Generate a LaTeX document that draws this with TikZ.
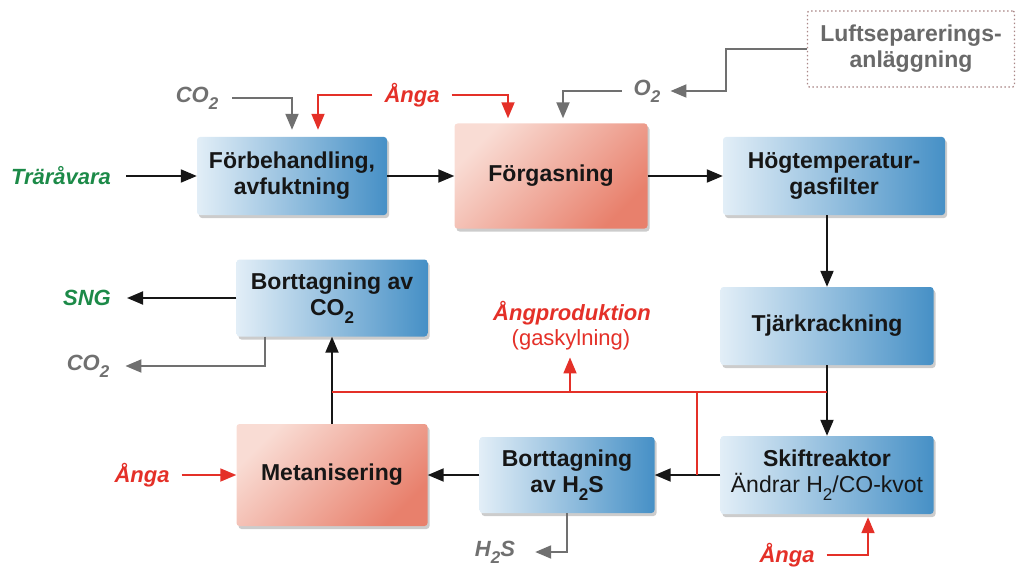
\documentclass[tikz,border=0pt]{standalone}
\usepackage{fontspec}
\setmainfont{Liberation Sans}
\usetikzlibrary{arrows.meta,shadows,calc}

\definecolor{cgreen}{RGB}{28,138,72}
\definecolor{cred}{RGB}{228,48,40}
\definecolor{cgray}{RGB}{112,112,112}
\definecolor{cblack}{RGB}{22,22,22}
\definecolor{blueL}{RGB}{226,238,247}
\definecolor{blueM}{RGB}{130,182,220}
\definecolor{blueR}{RGB}{70,144,198}
\definecolor{redL}{RGB}{249,220,212}
\definecolor{redR}{RGB}{232,128,108}
\definecolor{luftb}{RGB}{170,135,135}
\definecolor{lufttext}{RGB}{105,105,105}

\newcommand\mysub[1]{\raisebox{-0.32em}{\fontsize{17}{17}\selectfont #1}}

\begin{document}
\begin{tikzpicture}[x=1pt,y=-1pt,
  box/.style={rounded corners=3pt, inner sep=0pt, align=center, text=cblack,
    font=\fontsize{23}{26}\selectfont\bfseries,
    drop shadow={opacity=0.4, shadow xshift=2pt, shadow yshift=-3pt}},
  bluebox/.style={box, left color=blueL, middle color=blueM, right color=blueR},
  redbox/.style={box, left color=redL, right color=redR, shading angle=45},
  luftbox/.style={draw=luftb, line width=1.3pt, dash pattern=on 1.5pt off 2.5pt,
    fill=white, rounded corners=2pt, inner sep=0pt, align=center, text=lufttext,
    font=\fontsize{23}{26}\selectfont\bfseries},
  lab/.style={inner sep=0pt, font=\fontsize{22}{24}\selectfont\bfseries\itshape},
  arrtip/.style={-{Triangle[length=16pt,width=13pt]}},
  arr/.style={line width=2pt, draw=cblack, arrtip},
  grayarr/.style={line width=2pt, draw=cgray, arrtip},
  redarr/.style={line width=1.8pt, draw=cred, arrtip},
  redline/.style={line width=1.8pt, draw=cred},
]
\useasboundingbox (0,0) rectangle (1016,572);

% process boxes
\node[bluebox, minimum width=190pt, minimum height=78pt] (pre) at (292,176) {Förbehandling,\\avfuktning};
\node[redbox, minimum width=193pt, minimum height=105pt] (gas) at (551,176) {Förgasning};
\node[bluebox, minimum width=222pt, minimum height=78pt] (hot) at (834,176) {Högtemperatur-\\gasfilter};
\node[bluebox, minimum width=213pt, minimum height=78pt] (tar) at (827,326) {Tjärkrackning};
\node[bluebox, minimum width=213pt, minimum height=78pt] (shift) at (827,475) {Skiftreaktor\\{\mdseries Ändrar H\mysub{2}/CO-kvot}};
\node[bluebox, minimum width=175pt, minimum height=76pt] (h2s) at (567,475) {Borttagning\\av H\mysub{2}S};
\node[redbox, minimum width=191pt, minimum height=102pt] (met) at (332,475) {Metanisering};
\node[bluebox, minimum width=191pt, minimum height=77pt] (co2) at (332,298) {Borttagning av\\CO\mysub{2}};
\node[luftbox, minimum width=207pt, minimum height=76pt] (luft) at (911,49) {Luftseparerings-\\anläggning};

% labels
\node[lab, text=cgreen] (trar) at (61,176) {Träråvara};
\node[lab, text=cgray] (co2in) at (197,98) {CO\mysub{2}};
\node[lab, text=cred] (anga1) at (412,95) {Ånga};
\node[lab, text=cgray] (o2) at (647,91) {O\mysub{2}};
\node[lab, text=cgreen] (sng) at (87,298) {SNG};
\node[lab, text=cgray] (co2out) at (88,366) {CO\mysub{2}};
\node[lab, text=cred] (angprod) at (572,313) {Ångproduktion};
\node[inner sep=0pt, text=cred, font=\fontsize{22}{24}\selectfont] (gask) at (571,340) {(gaskylning)};
\node[lab, text=cred] (anga2) at (142,475) {Ånga};
\node[lab, text=cgray] (h2sout) at (495,552) {H\mysub{2}S};
\node[lab, text=cred] (anga3) at (787,555) {Ånga};

% main flow
\draw[arr, shorten <=15pt] (trar.east) -- (pre.west);
\draw[arr] (pre) -- (gas);
\draw[arr] (gas) -- (hot);
\draw[arr] (hot.south -| tar.north) -- (tar.north);
\draw[arr] (tar) -- (shift);
\draw[arr] (shift) -- (h2s);
\draw[arr] (h2s) -- (met);
\draw[arr] (met) -- (co2);
\draw[arr, shorten >=16pt] (co2.west) -- (sng.east);
\draw[grayarr] ([xshift=-67pt]co2.south) |- ([xshift=16pt]co2out.east);

% top inputs
\draw[grayarr, shorten >=7pt] ([xshift=14pt]co2in.east) -| (pre.north);
\draw[redarr, shorten >=7pt] ([xshift=-12pt]anga1.west) -| ([xshift=26pt]pre.north);
\draw[redarr, shorten >=5pt] ([xshift=12pt]anga1.east) -| ([xshift=-43pt]gas.north);
\draw[grayarr, shorten >=5pt] ([xshift=-12pt]o2.west) -| ([xshift=12pt]gas.north);
\draw[grayarr] (luft.west) -- ++(-81,0) |- ([xshift=10pt]o2.east);

% steam network
\coordinate (rL) at (332,392);
\coordinate (rR) at (827,392);
\coordinate (rJ) at (697,392);
\coordinate (rJb) at (697,475);
\coordinate (rP) at (570,392);
\draw[redline] (rL) -- (rR);
\draw[redline] (rJ) -- (rJb);
\draw[redarr, shorten >=7pt] (rP) -- (rP |- gask.south);

% bottom inputs / outputs
\draw[redarr, shorten <=12pt] (anga2.east) -- (met.west);
\draw[grayarr] (h2s.south) |- ([xshift=20pt]h2sout.east);
\draw[redarr, shorten >=3pt] ([xshift=12pt]anga3.east) -| ([xshift=41pt]shift.south);
\end{tikzpicture}
\end{document}
